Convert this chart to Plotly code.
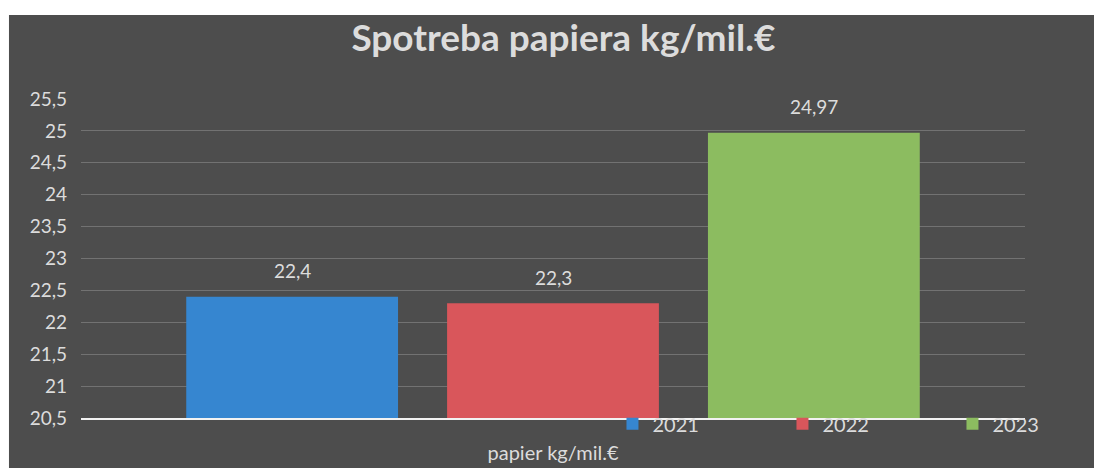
import plotly.graph_objects as go

# Data
category = ["papier kg/mil.€"]
years = ["2021", "2022", "2023"]
values = [22.4, 22.3, 24.97]
colors = ["#3686d0", "#d9565b", "#8cbc60"]
y_ticks = [20.5, 21, 21.5, 22, 22.5, 23, 23.5, 24, 24.5, 25, 25.5]

TEXT = "#dcdcdc"
FONT = "Lato, 'Open Sans', sans-serif"

BARGAP = 0.171
BARGROUPGAP = 0.188

fig = go.Figure()
for yr, v, c in zip(years, values, colors):
    fig.add_trace(go.Bar(
        name=yr, x=category, y=[v],
        marker=dict(color=c, line=dict(width=0)),
        hoverinfo="name+y",
    ))

# value labels above each bar in the group
slot = (1 - BARGAP) / len(values)
for i, v in enumerate(values):
    xpos = (i - (len(values) - 1) / 2) * slot
    fig.add_annotation(
        x=xpos, y=v, xref="x", yref="y", yshift=26,
        text=f"{v:g}".replace(".", ","), showarrow=False,
        font=dict(family=FONT, size=19, color=TEXT),
    )

# dark chart panel (leaves a thin white strip at top and left)
fig.add_shape(
    type="rect", xref="paper", yref="paper", layer="below",
    x0=-0.0763, x1=1.08, y0=-0.16, y1=1.263,
    fillcolor="#4d4d4d", line=dict(width=0),
)

fig.update_layout(
    width=1094, height=468,
    paper_bgcolor="white", plot_bgcolor="rgba(0,0,0,0)",
    margin=dict(l=81, r=69, t=99, b=50, autoexpand=False),
    separators=", ",
    barmode="group", bargap=BARGAP, bargroupgap=BARGROUPGAP,
    title=dict(
        text="<b>Spotreba papiera kg/mil.€</b>",
        x=0.515, xanchor="center", y=0.918, yanchor="middle",
        font=dict(family=FONT, size=37, color=TEXT),
    ),
    font=dict(family=FONT, color=TEXT),
    legend=dict(
        orientation="h", x=0.563, xanchor="left", y=-0.018, yanchor="middle",
        bgcolor="rgba(0,0,0,0)", font=dict(family=FONT, size=20, color=TEXT),
        entrywidth=125, entrywidthmode="pixels", itemwidth=30,
        traceorder="normal",
    ),
    xaxis=dict(
        showgrid=False, showline=True, linecolor="#f2f2f2", linewidth=2,
        ticks="", tickfont=dict(family=FONT, size=20, color=TEXT),
        ticklabelstandoff=16,
    ),
    yaxis=dict(
        range=[20.5, 25.5], tickvals=y_ticks, showgrid=True,
        gridcolor="#727272", gridwidth=1, zeroline=False, showline=False,
        ticks="", ticklabelstandoff=13,
        tickfont=dict(family=FONT, size=19, color=TEXT),
    ),
)

fig.write_html("out.html")
